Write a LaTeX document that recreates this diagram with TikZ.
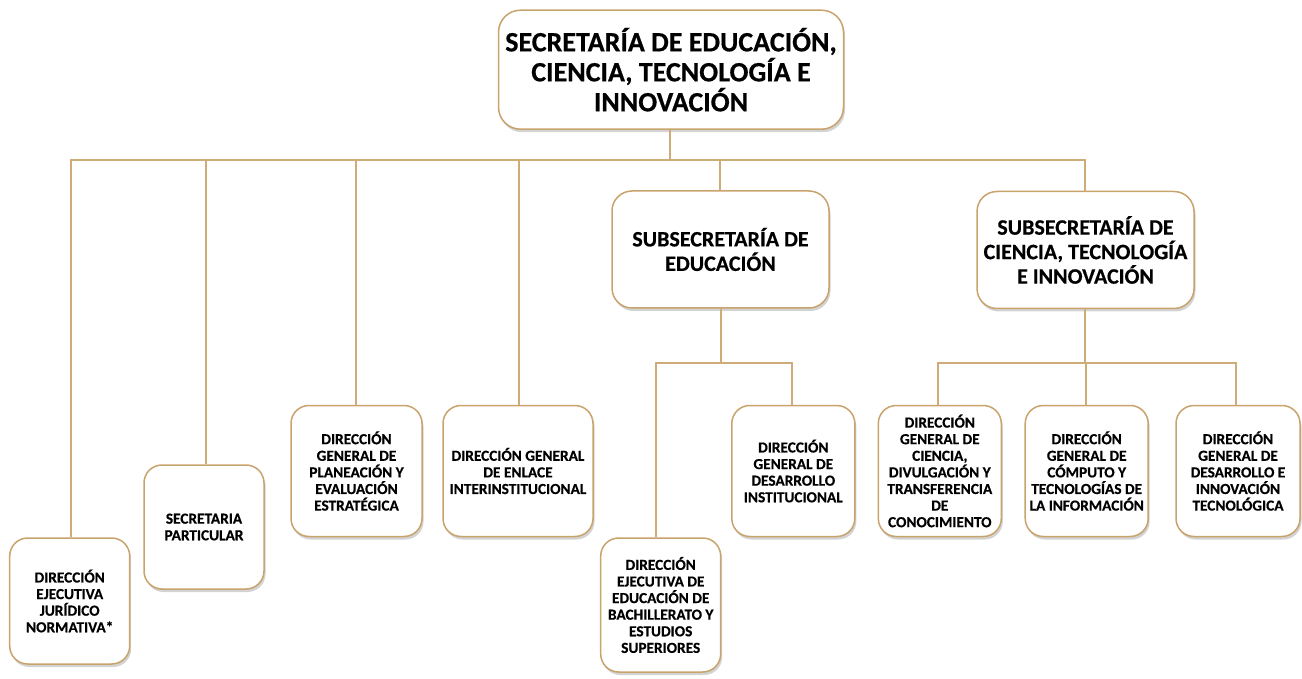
\documentclass[tikz,border=0pt]{standalone}
\usepackage{fontspec}
\setmainfont{Carlito}[BoldFont={Carlito Bold},BoldFeatures={FakeBold=0.5}]
\usetikzlibrary{shadows}
\definecolor{tanc}{RGB}{200,163,108}
\definecolor{linec}{RGB}{205,172,120}
\tikzset{
  box/.style={draw=tanc, line width=1.5pt, rounded corners=18pt, fill=white, align=center,
    inner sep=1pt, drop shadow={opacity=0.35, shadow xshift=1.5pt, shadow yshift=-3pt}},
  bigbox/.style={box, rounded corners=22pt, font=\fontsize{28}{30}\selectfont\bfseries},
  subbox/.style={box, rounded corners=20pt, font=\fontsize{22}{24.5}\selectfont\bfseries},
  smallbox/.style={box, font=\fontsize{15.3}{16.6}\selectfont\bfseries},
  conn/.style={draw=linec, line width=1.5pt}
}
\begin{document}
\begin{tikzpicture}[x=1pt,y=-1pt]
\useasboundingbox (0,0) rectangle (1302,679);
% nodes
\node[bigbox, minimum width=345, minimum height=119] (top) at (671,69.7) {SECRETARÍA DE EDUCACIÓN,\\CIENCIA, TECNOLOGÍA E\\INNOVACIÓN};
\node[subbox, minimum width=217, minimum height=117] (subed) at (720.5,249.5) {SUBSECRETARÍA DE\\EDUCACIÓN};
\node[subbox, minimum width=217, minimum height=117] (subcti) at (1085.5,250) {SUBSECRETARÍA DE\\CIENCIA, TECNOLOGÍA\\E INNOVACIÓN};
\node[smallbox, minimum width=120, minimum height=126] (dejn) at (69.7,601) {DIRECCIÓN\\EJECUTIVA\\JURÍDICO\\NORMATIVA*};
\node[smallbox, minimum width=120, minimum height=124] (sp) at (204,527) {SECRETARIA\\PARTICULAR};
\node[smallbox, minimum width=131, minimum height=131] (dgpee) at (356.5,471) {DIRECCIÓN\\GENERAL DE\\PLANEACIÓN Y\\EVALUACIÓN\\ESTRATÉGICA};
\node[smallbox, minimum width=150, minimum height=131] (dgei) at (518,471) {DIRECCIÓN GENERAL\\DE ENLACE\\INTERINSTITUCIONAL};
\node[smallbox, minimum width=120, minimum height=134] (deebes) at (660.7,605) {DIRECCIÓN\\EJECUTIVA DE\\EDUCACIÓN DE\\BACHILLERATO Y\\ESTUDIOS\\SUPERIORES};
\node[smallbox, minimum width=123, minimum height=131] (dgdi) at (793.3,471) {DIRECCIÓN\\GENERAL DE\\DESARROLLO\\INSTITUCIONAL};
\node[smallbox, minimum width=123, minimum height=131] (dgcd) at (939.8,471) {DIRECCIÓN\\GENERAL DE\\CIENCIA,\\DIVULGACIÓN Y\\TRANSFERENCIA\\DE\\CONOCIMIENTO};
\node[smallbox, minimum width=123, minimum height=131] (dgcti) at (1086.7,471) {DIRECCIÓN\\GENERAL DE\\CÓMPUTO Y\\TECNOLOGÍAS DE\\LA INFORMACIÓN};
\node[smallbox, minimum width=124, minimum height=131] (dgdit) at (1238,471) {DIRECCIÓN\\GENERAL DE\\DESARROLLO E\\INNOVACIÓN\\TECNOLÓGICA};
% bus coordinates
\coordinate (hub) at (670,160);
\coordinate (busL) at (71,160);
\coordinate (busR) at (1085,160);
\coordinate (edhub) at (721,363);
\coordinate (ctihub) at (1085,363);
% connectors
\draw[conn] (top.south -| hub) -- (hub);
\draw[conn] (busL |- dejn.north) -- (busL) -- (busR) -- (busR |- subcti.north);
\draw[conn] (206,160) -- (206,0 |- sp.north);
\draw[conn] (356,160) -- (356,0 |- dgpee.north);
\draw[conn] (519,160) -- (519,0 |- dgei.north);
\draw[conn] (720,160) -- (720,0 |- subed.north);
\draw[conn] (subed.south -| edhub) -- (edhub);
\draw[conn] (656,0 |- deebes.north) -- (656,363) -- (792,363) -- (792,0 |- dgdi.north);
\draw[conn] (subcti.south -| ctihub) -- (ctihub);
\draw[conn] (938,0 |- dgcd.north) -- (938,363) -- (1236,363) -- (1236,0 |- dgdit.north);
\draw[conn] (1086,363) -- (1086,0 |- dgcti.north);
\end{tikzpicture}
\end{document}
